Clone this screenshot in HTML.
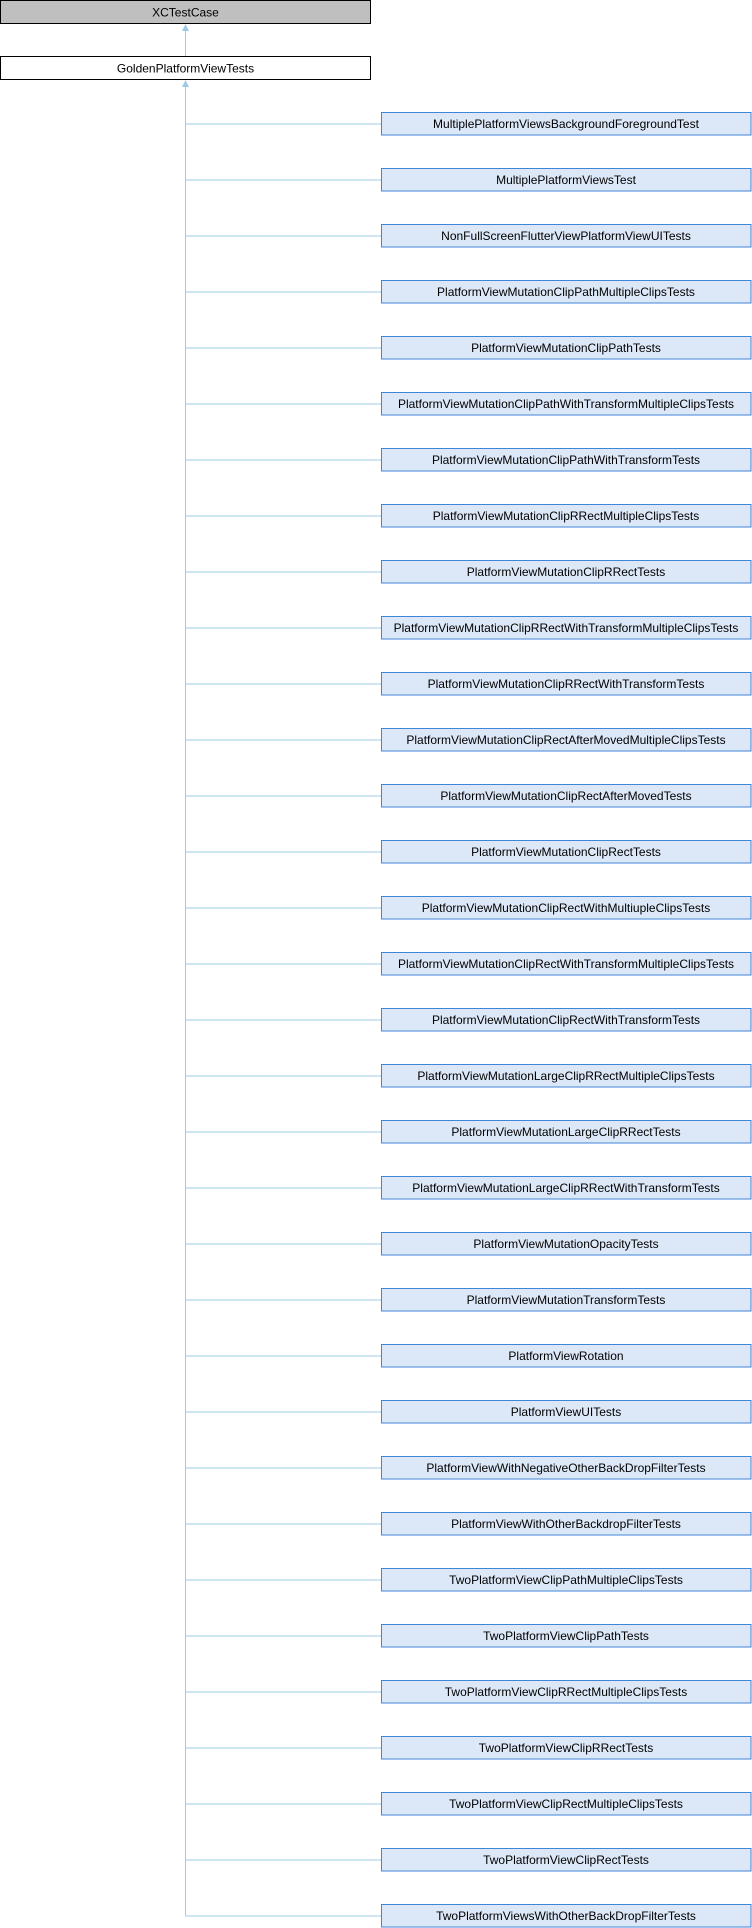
<!DOCTYPE html>
<html><head><meta charset="utf-8"><style>
html,body{margin:0;padding:0;background:#fff;}
svg{display:block;}
text{font-family:"Liberation Sans",Arial,sans-serif;font-size:12px;fill:#000;}
</style></head><body>
<svg width="752" height="1928" viewBox="0 0 752 1928" xmlns="http://www.w3.org/2000/svg">
<rect x="0.5" y="0.5" width="370" height="23" fill="#bfbfbf" stroke="#000"/>
<text x="185.5" y="16.5" text-anchor="middle">XCTestCase</text>
<line x1="185.5" y1="56" x2="185.5" y2="30" stroke="#9ccbea" stroke-width="1"/>
<polygon points="185.5,24 182,31 189,31" fill="#9ccbea"/>
<rect x="0.5" y="56.5" width="370" height="23" fill="#fff" stroke="#000"/>
<text x="185.5" y="72.5" text-anchor="middle">GoldenPlatformViewTests</text>
<polygon points="185.5,80 182,87 189,87" fill="#9ccbea"/>
<line x1="185.5" y1="86" x2="185.5" y2="1916" stroke="#9ccbea"/>
<g id="kids"></g>
</svg>
<script>
var names=["MultiplePlatformViewsBackgroundForegroundTest","MultiplePlatformViewsTest","NonFullScreenFlutterViewPlatformViewUITests","PlatformViewMutationClipPathMultipleClipsTests","PlatformViewMutationClipPathTests","PlatformViewMutationClipPathWithTransformMultipleClipsTests","PlatformViewMutationClipPathWithTransformTests","PlatformViewMutationClipRRectMultipleClipsTests","PlatformViewMutationClipRRectTests","PlatformViewMutationClipRRectWithTransformMultipleClipsTests","PlatformViewMutationClipRRectWithTransformTests","PlatformViewMutationClipRectAfterMovedMultipleClipsTests","PlatformViewMutationClipRectAfterMovedTests","PlatformViewMutationClipRectTests","PlatformViewMutationClipRectWithMultiupleClipsTests","PlatformViewMutationClipRectWithTransformMultipleClipsTests","PlatformViewMutationClipRectWithTransformTests","PlatformViewMutationLargeClipRRectMultipleClipsTests","PlatformViewMutationLargeClipRRectTests","PlatformViewMutationLargeClipRRectWithTransformTests","PlatformViewMutationOpacityTests","PlatformViewMutationTransformTests","PlatformViewRotation","PlatformViewUITests","PlatformViewWithNegativeOtherBackDropFilterTests","PlatformViewWithOtherBackdropFilterTests","TwoPlatformViewClipPathMultipleClipsTests","TwoPlatformViewClipPathTests","TwoPlatformViewClipRRectMultipleClipsTests","TwoPlatformViewClipRRectTests","TwoPlatformViewClipRectMultipleClipsTests","TwoPlatformViewClipRectTests","TwoPlatformViewsWithOtherBackDropFilterTests"];
var g=document.getElementById("kids"),h="";
names.forEach(function(n,i){var y=Math.round(112+i*56)+0.5;var yc=y+11.5;
h+='<line x1="185.5" y1="'+yc+'" x2="381" y2="'+yc+'" stroke="#9ccbea"/>';
h+='<rect x="381.5" y="'+y+'" width="369.5" height="22.5" fill="#dce8f8" stroke="#3f86d6"/>';
h+='<text x="566" y="'+(y+15.5)+'" text-anchor="middle">'+n+'</text>';});
g.innerHTML=h;
</script>
</body></html>
